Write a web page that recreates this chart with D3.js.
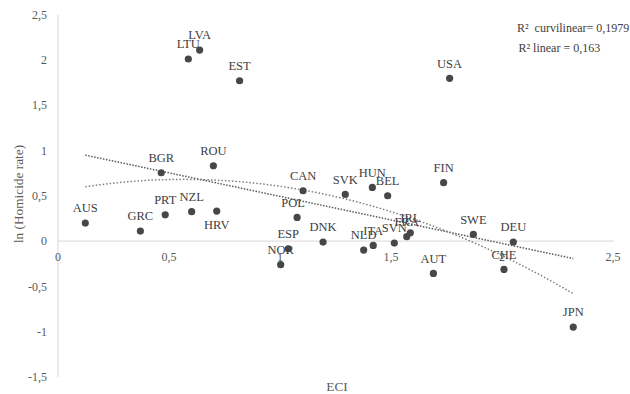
<!DOCTYPE html>
<html>
<head>
<meta charset="utf-8">
<script src="https://cdn.jsdelivr.net/npm/d3@7"></script>
<style>
  html, body { margin: 0; padding: 0; background: #fff; }
  svg { display: block; }
  text { font-family: "Liberation Serif", "Times New Roman", serif; }
</style>
</head>
<body>
<svg id="chart" width="630" height="394"></svg>
<script>
// ---- Data ----
const countries = ["AUS","GRC","PRT","BGR","LTU","NZL","LVA","ROU","HRV","EST","NOR","ESP","POL","CAN","DNK","SVK","NLD","HUN","ITA","BEL","SVN","FRA","IRL","AUT","FIN","USA","SWE","CHE","DEU","JPN"];
const eci = [0.123,0.371,0.483,0.465,0.587,0.602,0.638,0.700,0.715,0.818,1.003,1.037,1.077,1.104,1.194,1.294,1.377,1.416,1.420,1.485,1.515,1.571,1.587,1.691,1.737,1.764,1.871,2.009,2.051,2.321];
const lnHomicide = [0.199,0.110,0.290,0.754,2.009,0.324,2.108,0.831,0.331,1.769,-0.261,-0.085,0.261,0.555,-0.011,0.515,-0.099,0.592,-0.048,0.500,-0.022,0.048,0.092,-0.357,0.644,1.796,0.073,-0.313,-0.011,-0.949];
const xTicks = [0, 0.5, 1, 1.5, 2, 2.5];
const yTicks = [-1.5, -1, -0.5, 0, 0.5, 1, 1.5, 2, 2.5];
const linearFit = [1.012, -0.519];            // intercept, slope
const curveFit = [0.548, 0.467, -0.4106];     // a + b x + c x^2
const r2Labels = ["R\u00B2  curvilinear= 0,1979", "R\u00B2 linear = 0,163"];
const xTitle = "ECI";
const yTitle = "ln (Homicide rate)";

// ---- Layout ----
const svg = d3.select("#chart");
const x = d3.scaleLinear().domain([0, 2.5]).range([58, 613]);
const y = d3.scaleLinear().domain([-1.5, 2.5]).range([377, 14.5]);
const fmt = v => String(v).replace(".", ",");
const labelBelow = { HRV: 28 };
const labelDx = { POL: -4 };

// y axis line
svg.append("line").attr("x1", x(0)).attr("x2", x(0)).attr("y1", y(2.5)).attr("y2", y(-1.5))
  .attr("stroke", "#d9d9d9").attr("stroke-width", 1);
// x axis line at y=0
svg.append("line").attr("x1", x(0)).attr("x2", x(2.5) + 1).attr("y1", y(0)).attr("y2", y(0))
  .attr("stroke", "#d9d9d9").attr("stroke-width", 1);

// y tick labels
svg.append("g").selectAll("text").data(yTicks).join("text")
  .attr("x", 47).attr("y", d => y(d)).attr("dy", "0.35em")
  .attr("text-anchor", "end").attr("font-size", 12).attr("fill", "#595959")
  .text(d => fmt(d));
// x tick labels
svg.append("g").selectAll("text").data(xTicks).join("text")
  .attr("x", d => x(d)).attr("y", y(0) + 16).attr("dy", "0.35em")
  .attr("text-anchor", "middle").attr("font-size", 12).attr("fill", "#595959")
  .text(d => fmt(d));

// trend lines
const xmin = d3.min(eci), xmax = d3.max(eci);
const samples = d3.range(0, 101).map(i => xmin + (xmax - xmin) * i / 100);
const line = d3.line().x(d => x(d[0])).y(d => y(d[1]));
svg.append("path")
  .attr("d", line([[xmin, linearFit[0] + linearFit[1] * xmin], [xmax, linearFit[0] + linearFit[1] * xmax]]))
  .attr("fill", "none").attr("stroke", "#595959").attr("stroke-width", 1.5)
  .attr("stroke-dasharray", "1.5 1.5");
svg.append("path")
  .attr("d", line(samples.map(v => [v, curveFit[0] + curveFit[1] * v + curveFit[2] * v * v])))
  .attr("fill", "none").attr("stroke", "#7f7f7f").attr("stroke-width", 1.5)
  .attr("stroke-dasharray", "1.5 2");

// points
const pts = countries.map((c, i) => ({ c, x: eci[i], y: lnHomicide[i] }));
svg.append("g").selectAll("circle").data(pts).join("circle")
  .attr("cx", d => x(d.x)).attr("cy", d => y(d.y)).attr("r", 3.6)
  .attr("fill", "#474747");

// point labels
svg.append("g").selectAll("text").data(pts).join("text")
  .attr("x", d => x(d.x) + (labelDx[d.c] || 0))
  .attr("y", d => y(d.y) + (labelBelow[d.c] ? 13.5 : -15))
  .attr("dy", "0.35em")
  .attr("text-anchor", "middle").attr("font-size", 12.5).attr("fill", "#404040")
  .text(d => d.c);

// R² annotations
svg.append("g").selectAll("text").data(r2Labels).join("text")
  .attr("x", (d, i) => i === 0 ? 517 : 518.5).attr("y", (d, i) => 28 + i * 20).attr("dy", "0.35em")
  .attr("font-size", 12).attr("fill", "#404040")
  .attr("xml:space", "preserve").style("white-space", "pre")
  .text(d => d);

// axis titles
svg.append("text").attr("x", 337).attr("y", 386.5).attr("dy", "0.35em")
  .attr("text-anchor", "middle").attr("font-size", 13.3).attr("fill", "#595959").text(xTitle);
svg.append("text").attr("transform", "translate(18.5,194) rotate(-90)").attr("dy", "0.35em")
  .attr("text-anchor", "middle").attr("font-size", 13.3).attr("fill", "#595959").text(yTitle);
</script>
</body>
</html>
